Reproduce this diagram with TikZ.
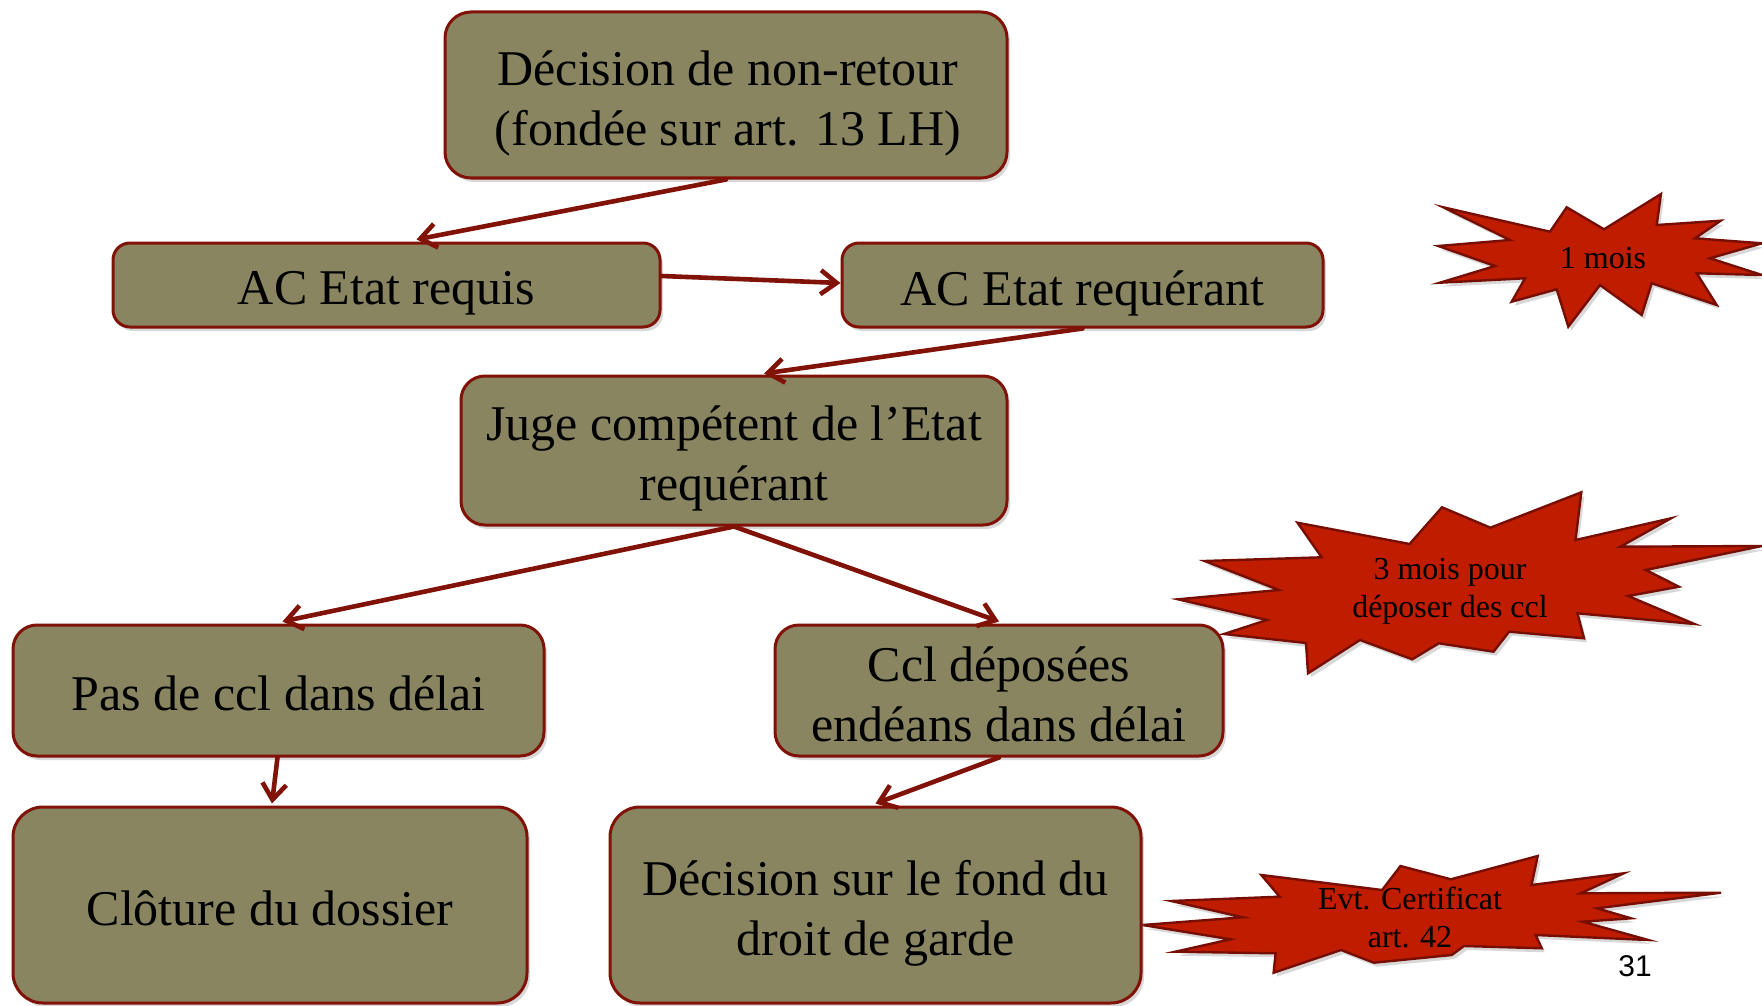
\documentclass[tikz,border=0pt]{standalone}
\usepackage{fontspec}
\setmainfont{Liberation Serif}
\newfontfamily\pagenumfont{Liberation Sans}
\usetikzlibrary{arrows.meta,shadows,calc}
\definecolor{boxfill}{RGB}{137,133,97}
\definecolor{boxline}{RGB}{128,18,8}
\definecolor{arrowred}{RGB}{128,18,8}
\definecolor{starfill}{RGB}{192,28,0}
\definecolor{starline}{RGB}{118,14,4}
\tikzset{
  flowbox/.style={draw=boxline, line width=1.5pt, fill=boxfill, inner sep=0pt,
    drop shadow={opacity=0.3, shadow xshift=1.5pt, shadow yshift=-2pt}},
  boxtext/.style={align=center, font=\fontsize{25}{30}\selectfont, inner sep=0pt},
  flowarrow/.style={draw=arrowred, line width=2.3pt, line cap=round, line join=round,
    -{Straight Barb[length=8pt,width=12pt]}},
  burst/.style={fill=starfill, draw=starline, line width=1.2pt, line join=miter,
    drop shadow={opacity=0.3, shadow xshift=1.5pt, shadow yshift=-2pt}},
  bursttext/.style={font=\fontsize{16}{19}\selectfont, align=center, inner sep=0pt},
}
\begin{document}
\begin{tikzpicture}[x=0.5pt,y=-0.5pt]
\fill[white] (0,0) rectangle (1762,1006);
\useasboundingbox (0,0) rectangle (1762,1006);

% starbursts
\filldraw[burst] (1443.3,207.3) -- (1550,231.7) -- (1566.7,207.3) -- (1604,229.3) -- (1661,194) -- (1656.7,225) -- (1720.7,220.7) -- (1695,238.3) -- (1762,243.3) -- (1710,258.3) -- (1762,275) -- (1696.7,273.3) -- (1716.7,305) -- (1651.7,283.3) -- (1641.7,315) -- (1600,285) -- (1568.3,326.7) -- (1556.7,289.3) -- (1511.7,301.7) -- (1525,278.3) -- (1440,282.7) -- (1495,266) -- (1438.3,246) -- (1510,240) -- cycle;
\node[bursttext] (s1) at (1603,258) {1 mois};

\filldraw[burst] (1297.5,522.7) -- (1409.6,544) -- (1442,507.3) -- (1490.4,527.7) -- (1581.3,492.3) -- (1575.5,540) -- (1671,518.3) -- (1620.3,546.7) -- (1762,546) -- (1645.7,570) -- (1678.9,586.7) -- (1628.1,596) -- (1694.5,624) -- (1577.4,613.3) -- (1584,638.3) -- (1509.1,631.7) -- (1493.5,651.7) -- (1438.8,643.3) -- (1412.3,659.3) -- (1360,640) -- (1308,673.3) -- (1306,643) -- (1224,634) -- (1267,620) -- (1178,599.3) -- (1278.8,590) -- (1204.6,561) -- (1321.7,557.3) -- cycle;
\node[bursttext] (s2) at (1450,591) {3 mois pour\\déposer des ccl};

\filldraw[burst] (1142.5,925) -- (1242.9,917.3) -- (1171.2,901) -- (1279.7,896.7) -- (1261.3,875) -- (1382.1,890) -- (1400.5,866) -- (1450.9,879.3) -- (1537.7,856) -- (1531.5,885) -- (1623.7,873.3) -- (1580.7,893.3) -- (1721.1,892.7) -- (1597,908.3) -- (1631,918.3) -- (1582.7,921.7) -- (1648.2,940) -- (1535.6,935) -- (1541.8,948.3) -- (1464,946) -- (1451.7,955) -- (1373.9,962.7) -- (1341.1,950) -- (1273.6,972.7) -- (1275.6,953.3) -- (1175.3,951.7) -- (1230.6,939.3) -- cycle;
\node[bursttext] (s3) at (1410,917.5) {Evt. Certificat\\art. 42};

% boxes
\node[flowbox, minimum width=281pt, minimum height=83pt, rounded corners=13pt] (b1) at (726,95) {};
\node[flowbox, minimum width=273.5pt, minimum height=42pt, rounded corners=8.5pt] (b2) at (386.5,285) {};
\node[flowbox, minimum width=240.5pt, minimum height=42pt, rounded corners=8.5pt] (b3) at (1082.5,285) {};
\node[flowbox, minimum width=273pt, minimum height=74.5pt, rounded corners=12pt] (b4) at (734,450.5) {};
\node[flowbox, minimum width=265.5pt, minimum height=65.5pt, rounded corners=12pt] (b5) at (278.5,690.5) {};
\node[flowbox, minimum width=224pt, minimum height=65.5pt, rounded corners=12pt] (b6) at (999,690.5) {};
\node[flowbox, minimum width=257pt, minimum height=98pt, rounded corners=15pt] (b7) at (270,905) {};
\node[flowbox, minimum width=265.5pt, minimum height=98pt, rounded corners=15pt] (b8) at (875.5,905) {};

% box texts
\node[boxtext] (t1) at ($(b1)+(2,8)$) {Décision de non-retour\\(fondée sur art. 13 LH)};
\node[boxtext] (t2) at ($(b2)+(0,8)$) {AC Etat requis};
\node[boxtext] (t3) at ($(b3)+(0,8)$) {AC Etat requérant};
\node[boxtext] (t4) at ($(b4)+(0,8)$) {Juge compétent de l’Etat\\requérant};
\node[boxtext] (t5) at ($(b5)+(0,3)$) {Pas de ccl dans délai};
\node[boxtext] (t6) at ($(b6)+(0,4)$) {Ccl déposées\\endéans dans délai};
\node[boxtext] (t7) at ($(b7)+(0,3)$) {Clôture du dossier};
\node[boxtext] (t8) at ($(b8)+(0,8)$) {Décision sur le fond du\\droit de garde};

% arrows
\draw[flowarrow] (b1.south) -- ($(b2.north)+(30,-2)$);
\draw[flowarrow] ($(b2.east)+(0,-9)$) -- ($(b3.west)+(0,-2)$);
\draw[flowarrow] (b3.south) -- ($(b4.north)+(30,-1)$);
\draw[flowarrow] (b4.south) -- ($(b5.north)+(4,-2)$);
\draw[flowarrow] (b4.south) -- ($(b6.north)+(0,-2)$);
\draw[flowarrow] ($(b5.south)+(-1,0)$) -- ($(b7.north)+(2,-2)$);
\draw[flowarrow] (b6.south) -- ($(b8.north)+(0,-2)$);

\node[font=\pagenumfont\fontsize{15}{17}\selectfont, inner sep=0pt] (pn) at (1635,966) {31};
\end{tikzpicture}
\end{document}
